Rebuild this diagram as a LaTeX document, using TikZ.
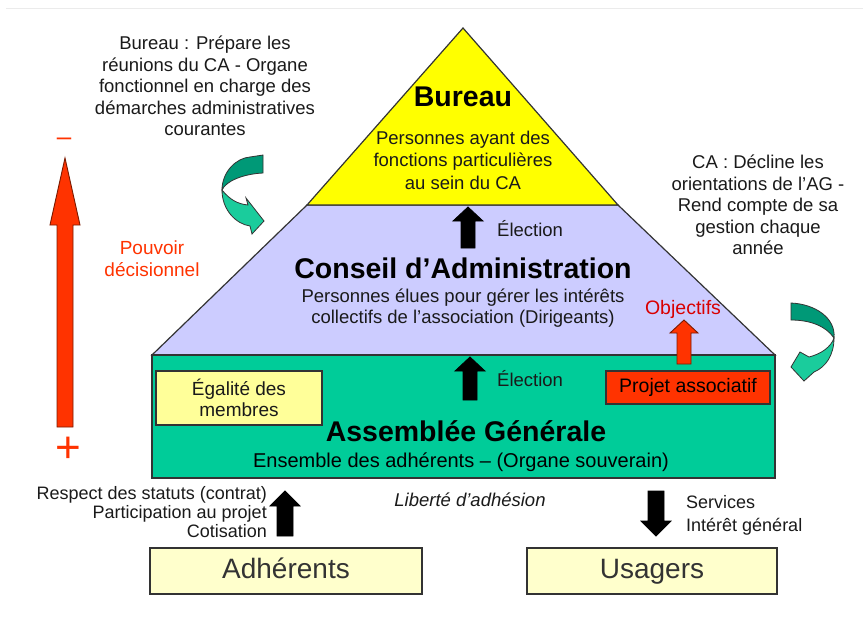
\documentclass[tikz,border=0pt]{standalone}
\usepackage{fontspec}
\setmainfont{Liberation Sans}
\definecolor{yel}{HTML}{FFFF00}
\definecolor{lav}{HTML}{CCCCFF}
\definecolor{grn}{HTML}{00CC99}
\definecolor{paley}{HTML}{FFFF99}
\definecolor{cream}{HTML}{FFFFCC}
\definecolor{redo}{HTML}{FF3300}
\definecolor{reddark}{HTML}{7A1A00}
\definecolor{tealdark}{HTML}{009977}
\definecolor{teallight}{HTML}{1ACC9C}
\definecolor{outl}{HTML}{333333}
\definecolor{txt}{HTML}{1A1A1A}
\newcommand{\blockarrowv}[7][]{%
  \filldraw[#1] ({#2-#6},#3) -- ({#2-#6},#4) -- ({#2-#7},#4) -- (#2,#5) -- ({#2+#7},#4) -- ({#2+#6},#4) -- ({#2+#6},#3) -- cycle;}
\begin{document}
\begin{tikzpicture}[x=1pt,y=-1pt,
  ann/.style={text=txt,align=center,inner sep=0pt,font=\fontsize{18.5}{21.5}\selectfont},
  title/.style={text=black,inner sep=0pt,font=\fontsize{28.5}{32}\selectfont\bfseries},
  bigbox/.style={draw=outl,line width=1.2pt,fill=cream,minimum width=#1,minimum height=46pt,inner sep=0pt,outer sep=0pt,text=outl,text height=20pt,text depth=5pt,font=\fontsize{28}{32}\selectfont},
  blk/.style={fill=black,draw=black,line width=0.8pt},
  redarr/.style={fill=redo,draw=reddark,line width=0.9pt},
  shape edge/.style={draw=outl,line width=1.2pt}]
\useasboundingbox[fill=white] (0,0) rectangle (863,622);
\draw[black!8,line width=0.8pt] (6,8) -- (863,8);
% pyramid
\filldraw[shape edge,fill=lav] (307,205) -- (618,205) -- (775,355) -- (152,355) -- cycle;
\filldraw[shape edge,fill=yel] (463,28) -- (307,205) -- (618,205) -- cycle;
\filldraw[shape edge,fill=grn] (152,355) rectangle (775,478);
% titles and texts in pyramid
\node[title] (bt) at (463,97) {Bureau};
\node[ann,font=\fontsize{18.5}{22.5}\selectfont] (bs) at (463,160) {Personnes ayant des\\fonctions particulières\\au sein du CA};
\blockarrowv[blk]{468}{248}{221}{207}{7}{15}
\node[ann,anchor=west] (el1) at (497,229) {Élection};
\node[title] (cat) at (463,268) {Conseil d’Administration};
\node[ann,font=\fontsize{18.5}{20.5}\selectfont] (cas) at (463,308) {Personnes élues pour gérer les intérêts\\collectifs de l’association (Dirigeants)};
\node[ann,text=red!85!black,font=\fontsize{19.5}{22}\selectfont] (obj) at (683,309) {Objectifs};
\blockarrowv[redarr]{684}{364}{333}{320}{7}{14}
\blockarrowv[blk]{470}{400}{371}{357}{7}{15}
\node[ann,anchor=west] (el2) at (497,379) {Élection};
\node[draw=outl,line width=1.2pt,fill=paley,minimum width=166pt,minimum height=54pt,inner sep=0pt,outer sep=0pt,align=center,text=txt,font=\fontsize{19}{21}\selectfont] (ega) at (239,398) {Égalité des\\membres};
\node[draw=outl,line width=1.2pt,fill=redo,minimum width=164pt,minimum height=33pt,inner sep=0pt,outer sep=0pt,text=black,font=\fontsize{19.5}{22}\selectfont] (proj) at (688,387.5) {Projet associatif};
\node[title] (agt) at (466,431) {Assemblée Générale};
\node[ann,text=black,font=\fontsize{20}{22}\selectfont] (ags) at (461,462) {Ensemble des adhérents – (Organe souverain)};
% left power arrow
\blockarrowv[redarr]{65}{427}{225}{158}{8}{15}
\node[text=redo,inner sep=0pt,font=\fontsize{26}{28}\selectfont] (minus) at (64,142) {–};
\node[text=redo,inner sep=0pt,font=\fontsize{44}{46}\selectfont] (plus) at (68,450) {+};
\node[ann,text=redo,font=\fontsize{19}{22}\selectfont] (pouv) at (152,259) {Pouvoir\\décisionnel};
% annotations
\node[ann] (bnote) at (205,86) {Bureau : Prépare les\\réunions du CA - Organe\\fonctionnel en charge des\\démarches administratives\\courantes};
\node[ann] (canote) at (758,205) {CA : Décline les\\orientations de l’AG -\\Rend compte de sa\\gestion chaque\\année};
% left curved teal arrow
\filldraw[draw=outl,line width=0.8pt,fill=tealdark] (250,157) -- (263,155) -- (263,173) .. controls (243,174) and (226,181) .. (222,190) .. controls (222,172) and (236,158) .. (250,157) -- cycle;
\filldraw[draw=outl,line width=0.8pt,fill=teallight] (222,190) .. controls (230,200) and (238,204) .. (248,205) -- (246,198) -- (264,221) -- (252,234) -- (250,226) .. controls (236,224) and (222,210) .. (222,190) -- cycle;
% right curved teal arrow
\filldraw[draw=outl,line width=0.8pt,fill=tealdark] (791,303) .. controls (815,304) and (836,318) .. (834,338) .. controls (826,326) and (810,320) .. (791,320) -- cycle;
\filldraw[draw=outl,line width=0.8pt,fill=teallight] (834,338) .. controls (834,355) and (826,367) .. (814,372) -- (804,381) -- (791,367) -- (800,352) -- (809,357) .. controls (821,354) and (831,347) .. (834,338) -- cycle;
% bottom
\node[ann,align=right,anchor=east,font=\fontsize{18}{19}\selectfont] (resp) at (267,512) {Respect des statuts (contrat)\\Participation au projet\\Cotisation};
\blockarrowv[blk]{285}{536}{506}{491}{8}{15}
\node[ann,font=\fontsize{18.5}{21}\selectfont\itshape] (lib) at (470,500) {Liberté d’adhésion};
\blockarrowv[blk]{656}{491}{521}{536}{8}{15}
\node[ann,align=left,anchor=west,font=\fontsize{18}{23}\selectfont] (serv) at (686,515) {Services\\Intérêt général};
\node[bigbox=272pt] (adh) at (286,571) {Adhérents};
\node[bigbox=250pt] (usa) at (652,571) {Usagers};
\end{tikzpicture}
\end{document}
